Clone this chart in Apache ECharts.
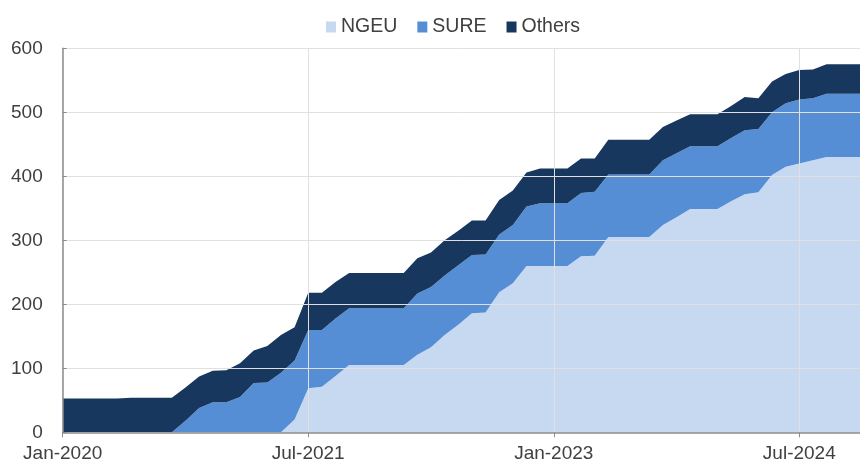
<!DOCTYPE html>
<html>
<head>
<meta charset="utf-8">
<script src="https://cdn.jsdelivr.net/npm/echarts@6/dist/echarts.min.js"></script>
<style>
  html, body { margin: 0; padding: 0; background: #fff; }
  #chart { width: 860px; height: 465px; }
</style>
</head>
<body>
<div id="chart"></div>
<script>
// months Jan-2020 .. Dec-2024
var months = [];
var monthNames = ['Jan','Feb','Mar','Apr','May','Jun','Jul','Aug','Sep','Oct','Nov','Dec'];
for (var y = 2020; y <= 2024; y++) {
    for (var m = 0; m < 12; m++) {
        months.push(monthNames[m] + '-' + y);
    }
}
var labelIdx = [0, 18, 36, 54];   // Jan-2020, Jul-2021, Jan-2023, Jul-2024

// outstanding amounts (EUR bn)
var ngeu = [0,0,0,0,0,0,0,0,0,0, 0,0,0,0,0,0,0,20,69,71,
            88,105,105,105,105,105,121,133,152,168, 186,187,219,233,260,260,260,260,275,276,
            305,305,305,305,324,336,349,349,349,361, 372,375,402,415,420,425,430,430,430,430];
var sure = [0,0,0,0,0,0,0,0,0,18, 38,47,47,55,77,78,93,92,91,89,
            90,89,89,89,89,89,96,94,93,93, 91,91,90,91,93,98,98,98,99,100,
            98,98,98,98,101,100,98,98,98,99, 100,99,98,99,100,97,99,99,99,99];
var others = [53,53,53,53,53,54,54,54,54,52, 49,49,50,53,51,57,59,52,58,58,
              57,55,55,55,55,55,55,54,55,54, 54,53,54,54,53,54,54,54,54,52,
              54,54,54,54,52,51,50,50,50,50, 52,48,48,46,46,45,46,46,46,46];

var yTicks = [0, 100, 200, 300, 400, 500, 600];

var showIdx = function (i) { return labelIdx.indexOf(i) >= 0; };
var font = 'Liberation Sans, Arial, sans-serif';

var chart = echarts.init(document.getElementById('chart'));
chart.setOption({
    animation: false,
    color: ['#c6d9f1', '#558ed5', '#17375e'],
    legend: {
        top: 12,
        left: 321,
        itemWidth: 10,
        itemHeight: 11,
        itemGap: 20,
        icon: 'rect',
        textStyle: { fontFamily: font, fontSize: 19.5, color: '#404040' },
        data: ['NGEU', 'SURE', 'Others']
    },
    // the plot runs a little past the right edge of the picture (cropped)
    grid: { left: 62.7, width: 804.8, top: 48.3, bottom: 32.7, outerBoundsMode: 'none' },
    xAxis: {
        type: 'category',
        data: months,
        boundaryGap: false,
        z: 10,
        axisLine: { lineStyle: { color: '#8c8c8c', width: 1.5 } },
        axisTick: { interval: showIdx, length: 5, lineStyle: { color: '#8c8c8c' } },
        axisLabel: { interval: showIdx, margin: 12, fontFamily: font, fontSize: 19, color: '#404040' },
        splitLine: { show: true, interval: showIdx, lineStyle: { color: '#e0e0e0' } }
    },
    yAxis: {
        type: 'value',
        min: yTicks[0],
        max: yTicks[yTicks.length - 1],
        interval: 100,
        z: 10,
        axisLine: { show: true, lineStyle: { color: '#8c8c8c', width: 1.5 } },
        axisTick: { show: true, inside: true, length: 4, lineStyle: { color: '#8c8c8c' } },
        axisLabel: { margin: 20, fontFamily: font, fontSize: 19, color: '#404040' },
        splitLine: { lineStyle: { color: '#e0e0e0' } }
    },
    series: [
        { name: 'NGEU', type: 'line', stack: 'total', data: ngeu },
        { name: 'SURE', type: 'line', stack: 'total', data: sure },
        { name: 'Others', type: 'line', stack: 'total', data: others }
    ].map(function (s) {
        s.symbol = 'none';
        s.lineStyle = { width: 0 };
        s.areaStyle = { opacity: 1 };
        return s;
    })
});
</script>
</body>
</html>
